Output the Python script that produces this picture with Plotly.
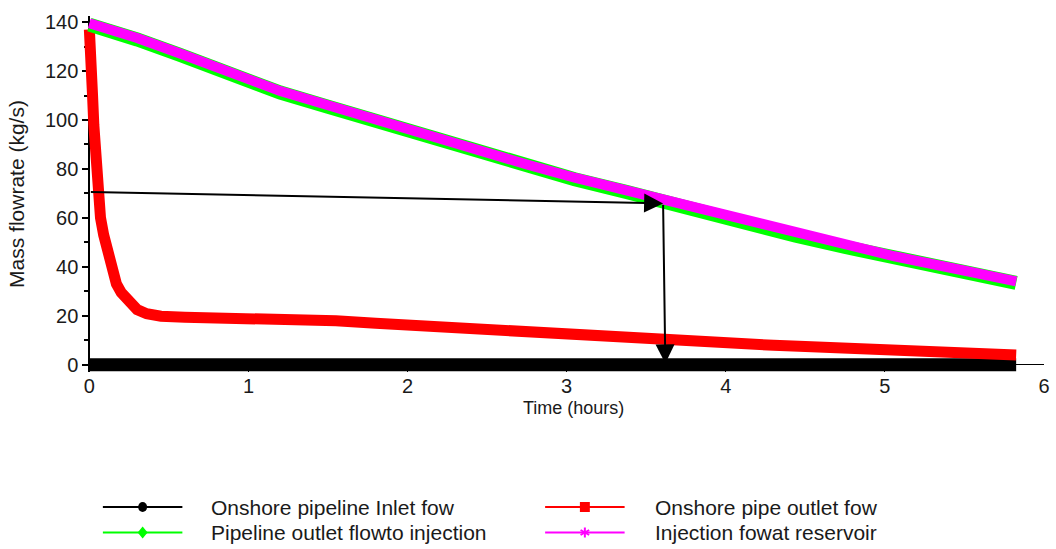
import plotly.graph_objects as go

# ---- series (time in hours, mass flowrate in kg/s) ----
inlet_time = [0.0, 1.0, 2.0, 3.0, 4.0, 5.0, 5.825]
inlet_flow = [0.0, 0.0, 0.0, 0.0, 0.0, 0.0, 0.0]

outlet_time = [0.0, 0.005, 0.012, 0.02, 0.028, 0.036, 0.045, 0.055, 0.07, 0.09,
               0.11, 0.13, 0.15, 0.17, 0.2, 0.24, 0.3, 0.36, 0.45, 0.6,
               0.8, 1.0, 1.2, 1.45, 1.55, 1.8, 2.0, 2.2, 2.45, 2.7,
               2.85, 3.0, 3.25, 3.5, 3.8, 4.05, 4.3, 4.5, 4.7, 4.95,
               5.2, 5.5, 5.825]
outlet_flow = [137.0, 133.0, 122.0, 110.0, 98.0, 87.0, 77.0, 67.0, 60.0, 53.0,
               47.5, 42.0, 37.0, 33.0, 29.5, 26.0, 22.5, 20.8, 19.8, 19.4,
               19.2, 18.7, 18.5, 18.4, 17.9, 16.9, 16.1, 15.2, 14.5, 13.6,
               12.9, 12.2, 11.4, 10.7, 9.8, 8.9, 7.9, 7.4, 6.8, 6.0,
               5.3, 4.6, 3.9]

transfer_time = [0.0, 0.15, 0.3, 0.57, 0.8, 1.0, 1.2, 1.5, 1.8, 2.13,
                 2.45, 2.75, 3.05, 3.38, 3.6, 4.0, 4.44, 4.75, 5.06, 5.45,
                 5.825]
pipeline_flow = [139.0, 136.4, 132.9, 126.6, 120.9, 115.4, 111.2, 105.4, 99.4, 93.2,
                 87.0, 81.2, 75.8, 70.5, 66.6, 60.0, 52.7, 48.1, 43.7, 38.5,
                 33.4]
injection_flow = [139.5, 137.0, 133.5, 127.2, 121.5, 116.0, 111.8, 106.0, 100.0, 93.8,
                  87.6, 81.8, 76.4, 71.1, 67.2, 60.6, 53.3, 48.7, 44.3, 39.1,
                  34.0]

series_names = ["Onshore pipeline Inlet fow", "Onshore pipe outlet fow",
                "Pipeline outlet flowto injection", "Injection fowat reservoir"]
series_colors = ["#000000", "#ff0000", "#00ff00", "#ff00ff"]

x_ticks = [0, 1, 2, 3, 4, 5, 6]
y_ticks = [0, 20, 40, 60, 80, 100, 120, 140]

# read-off guide: from 70 kg/s on the y axis to the injection curve, then down
guide_start_flow = 70.6
guide_time = 3.606
guide_flow = 65.9
guide_end_time = 3.62
guide_end_flow = 0.5

# ---- geometry ----
W_FIG, H_FIG = 1056, 549
M_L, M_R, M_T, M_B = 83, 6, 16, 177
PW = W_FIG - M_L - M_R
PH = H_FIG - M_T - M_B
X_RANGE = [-0.04, 6.0]
Y_RANGE = [-3.0, 142.5]
FONT = "Liberation Sans, Arial, sans-serif"
TEXT_COLOR = "#1a1a1a"


def px(xp):
    return (xp - M_L) / PW


def py(yp):
    return 1 - (yp - M_T) / PH


fig = go.Figure()

fig.add_trace(go.Scatter(x=inlet_time, y=inlet_flow, mode="lines",
                         line=dict(color=series_colors[0], width=13),
                         name=series_names[0], showlegend=False))
fig.add_trace(go.Scatter(x=outlet_time, y=outlet_flow, mode="lines",
                         line=dict(color=series_colors[1], width=11),
                         name=series_names[1], showlegend=False))
fig.add_trace(go.Scatter(x=transfer_time, y=pipeline_flow, mode="lines",
                         line=dict(color=series_colors[2], width=14),
                         name=series_names[2], showlegend=False))
fig.add_trace(go.Scatter(x=transfer_time, y=injection_flow, mode="lines",
                         line=dict(color=series_colors[3], width=10),
                         name=series_names[3], showlegend=False))

# guide arrows
fig.add_annotation(x=guide_time, y=guide_flow, ax=0.0, ay=guide_start_flow,
                   xref="x", yref="y", axref="x", ayref="y", text="",
                   showarrow=True, arrowhead=2, arrowsize=1.9, arrowwidth=2,
                   arrowcolor="#000000")
fig.add_annotation(x=guide_end_time, y=guide_end_flow, ax=guide_time, ay=guide_flow,
                   xref="x", yref="y", axref="x", ayref="y", text="",
                   showarrow=True, arrowhead=2, arrowsize=1.9, arrowwidth=2,
                   arrowcolor="#000000")

# x axis title
fig.add_annotation(x=px(577), y=py(408), xref="paper", yref="paper",
                   text="Time (hours)", showarrow=False,
                   xanchor="center", yanchor="middle",
                   font=dict(family=FONT, size=18, color=TEXT_COLOR))

# ---- legend (two columns under the plot) ----
row_y = [507, 532.5]
col_line = [(103, 183), (548, 628)]
col_text = [210, 657]
slots = [(0, 0), (0, 1), (1, 0), (1, 1)]  # (row, col) for each series
shapes = []
for i, (r, c) in enumerate(slots):
    yy = py(row_y[r])
    x0, x1 = col_line[c]
    shapes.append(dict(type="line", xref="paper", yref="paper",
                       x0=px(x0), x1=px(x1), y0=yy, y1=yy,
                       line=dict(color=series_colors[i], width=2)))
    fig.add_annotation(x=px(col_text[c]), y=yy, xref="paper", yref="paper",
                       text=series_names[i], showarrow=False,
                       xanchor="left", yanchor="middle",
                       font=dict(family=FONT, size=21, color=TEXT_COLOR))

# legend symbols
cx0 = (col_line[0][0] + col_line[0][1]) / 2
cx1 = (col_line[1][0] + col_line[1][1]) / 2
ry0, ry1 = row_y
shapes.append(dict(type="circle", xref="paper", yref="paper",
                   x0=px(cx0 - 4.5), x1=px(cx0 + 4.5), y0=py(ry0 + 5), y1=py(ry0 - 5),
                   fillcolor=series_colors[0], line=dict(width=0)))
shapes.append(dict(type="rect", xref="paper", yref="paper",
                   x0=px(cx1 - 5), x1=px(cx1 + 5), y0=py(ry0 + 5), y1=py(ry0 - 5),
                   fillcolor=series_colors[1], line=dict(width=0)))
shapes.append(dict(type="path", xref="paper", yref="paper",
                   path=(f"M {px(cx0)},{py(ry1 - 6)} L {px(cx0 + 5)},{py(ry1)} "
                         f"L {px(cx0)},{py(ry1 + 6)} L {px(cx0 - 5)},{py(ry1)} Z"),
                   fillcolor=series_colors[2], line=dict(width=0)))
for dx, dy in [(0, 5), (4.3, 2.5), (4.3, -2.5)]:
    shapes.append(dict(type="line", xref="paper", yref="paper",
                       x0=px(cx1 - dx), x1=px(cx1 + dx), y0=py(ry1 - dy), y1=py(ry1 + dy),
                       line=dict(color=series_colors[3], width=2)))

fig.update_layout(
    width=W_FIG, height=H_FIG,
    margin=dict(l=M_L, r=M_R, t=M_T, b=M_B),
    paper_bgcolor="white", plot_bgcolor="white",
    showlegend=False,
    shapes=shapes,
    font=dict(family=FONT, color=TEXT_COLOR),
    xaxis=dict(
        range=X_RANGE, tickvals=x_ticks, ticktext=[str(v) for v in x_ticks],
        showgrid=False, zeroline=False, showline=False,
        ticks="inside", ticklen=10, tickcolor="#000000", tickwidth=1,
        tickfont=dict(family=FONT, size=20, color=TEXT_COLOR),
        layer="below traces",
    ),
    yaxis=dict(
        range=Y_RANGE, tickvals=y_ticks, ticktext=[str(v) for v in y_ticks],
        anchor="free", position=(0 - X_RANGE[0]) / (X_RANGE[1] - X_RANGE[0]),
        showgrid=False, zeroline=True, zerolinecolor="#000000", zerolinewidth=1,
        showline=True, linecolor="#000000", linewidth=2,
        ticks="outside", ticklen=6, tickcolor="#000000", tickwidth=2,
        minor=dict(dtick=10, ticks="outside", ticklen=4, tickcolor="#000000", tickwidth=2),
        tickfont=dict(family=FONT, size=20, color=TEXT_COLOR),
        title=dict(text="Mass flowrate (kg/s)", font=dict(family=FONT, size=21, color=TEXT_COLOR),
                   standoff=14),
        layer="below traces",
    ),
)

fig.write_html("out.html")
